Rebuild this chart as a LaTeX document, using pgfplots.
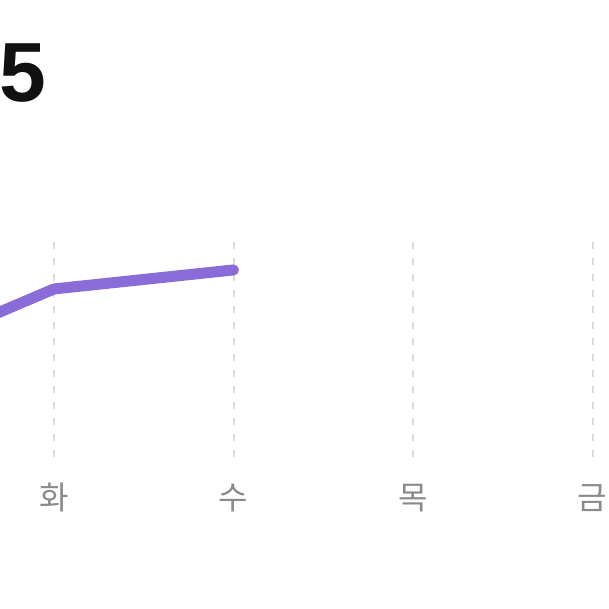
\documentclass[border=0pt]{standalone}
\usepackage{pgfplots}
\pgfplotsset{compat=1.18}
\usepackage{fontspec}
\setmainfont{Liberation Sans}
\newfontfamily\kr{Noto Sans CJK KR}

\definecolor{linepurple}{HTML}{8A6CD8}
\definecolor{ticklabelgray}{HTML}{8A8A8A}
\definecolor{gridgray}{HTML}{DADADA}
\definecolor{bigtext}{HTML}{111111}

\begin{document}
\begin{tikzpicture}[x=1pt,y=1pt]
\useasboundingbox (0,0) rectangle (609,609);
\clip (0,0) rectangle (609,609);

% big headline number, cut at the left edge
\node[anchor=base east, inner sep=0pt, text=bigtext,
      font=\fontsize{84}{90}\selectfont\bfseries] at (46.5,507) {5};

\begin{axis}[
    at={(-125.5pt,152pt)}, anchor=south west,
    scale only axis,
    width=718pt, height=216pt,
    xmin=0, xmax=4,
    ymin=0, ymax=100,
    axis line style={draw=none},
    tick style={draw=none},
    xtick={1,2,3,4},
    xticklabels={화,수,목,금},
    extra x ticks={0},
    extra x tick labels={},
    ytick=\empty,
    major tick length=0pt,
    xmajorgrids=true,
    grid style={gridgray, line width=2pt, dash pattern=on 7pt off 9pt},
    xticklabel style={font=\kr\fontsize{32}{38}\selectfont,
                      text=ticklabelgray, anchor=center, yshift=-41pt},
    clip=false,
]
\addplot[color=linepurple, line width=11pt, line cap=round, line join=round]
    coordinates {(0,42.4)(1,77.8)(2,86.6)};
\end{axis}
\end{tikzpicture}
\end{document}
